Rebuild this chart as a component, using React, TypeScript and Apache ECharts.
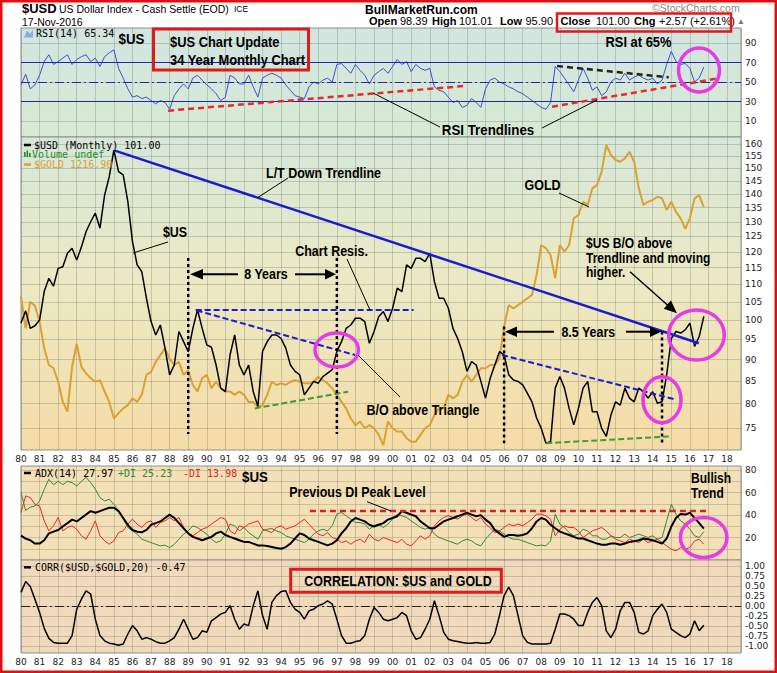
import React, { useEffect, useRef } from "react";
import * as echarts from "echarts";

// ---------- data (quarterly samples, first = Jan 1980) ----------
const START_YEAR = 1980;
const STEP = 0.25;

const usd = [
  99.2, 102.5, 97.8, 98.5, // 1980
  100, 107.9, 111.8, 109.5, // 1981
  114.8, 115.3, 119.5, 121.1, // 1982
  117.4, 121.5, 126.6, 130, // 1983
  133, 127.8, 139.6, 146.6, // 1984
  157.4, 148.6, 147.3, 137.2, // 1985
  123.3, 115.9, 113.8, 106, // 1986
  99.6, 96.1, 98.7, 92.8, // 1987
  86.4, 88.7, 97, 94.4, // 1988
  91.9, 97.8, 102.8, 97.8, // 1989
  93.6, 93, 88.7, 83.4, // 1990
  82.6, 91.1, 96.1, 88.7, // 1991
  86.4, 88.7, 82.6, 79.4, // 1992
  92, 94.4, 96.1, 96.1, // 1993
  95.2, 92.8, 88.7, 87.2, // 1994
  86.4, 81.9, 83.4, 84.9, // 1995
  84.5, 86, 86.8, 87.6, // 1996
  92, 94.4, 97.8, 98.7, // 1997
  100.5, 100.5, 99.6, 94, // 1998
  97, 100.9, 102.3, 99.6, // 1999
  103.2, 108.9, 107.9, 115.9, // 2000
  114.8, 117.9, 117.9, 116.9, // 2001
  119.5, 110.8, 106, 106, // 2002
  103.2, 97.8, 95.2, 91.9, // 2003
  87.2, 89.5, 88.7, 84.9, // 2004
  81.2, 85.6, 88.7, 91.9, // 2005
  91.1, 86.4, 85.2, 84.9, // 2006
  84.1, 82.3, 80.4, 77, // 2007
  74.9, 72, 72.3, 83.4, // 2008
  86, 83.4, 79, 75.6, // 2009
  79, 83.4, 84.9, 78.3, // 2010
  78.3, 74.9, 73.3, 77.6, // 2011
  80.4, 79.7, 83.4, 81.2, // 2012
  80.4, 83.4, 82.6, 81.2, // 2013
  82.6, 80.1, 80.4, 86.4, // 2014
  95.2, 97, 96.6, 97.4, // 2015
  99.2, 93.2, 95.7, 101, // 2016
];

const gold = [
  680, 552, 657, 640, // 1980
  577, 485, 435, 426, // 1981
  390, 342, 321, 430, // 1982
  500, 430, 412, 399, // 1983
  390, 394, 366, 342, // 1984
  307, 318, 328, 335, // 1985
  350, 342, 358, 408, // 1986
  416, 444, 464, 485, // 1987
  454, 435, 444, 408, // 1988
  420, 382, 366, 399, // 1989
  408, 374, 390, 374, // 1990
  366, 366, 358, 366, // 1991
  358, 342, 342, 331, // 1992
  335, 358, 390, 382, // 1993
  386, 382, 390, 394, // 1994
  390, 386, 386, 390, // 1995
  403, 394, 386, 374, // 1996
  358, 342, 328, 307, // 1997
  294, 301, 288, 294, // 1998
  288, 276, 258, 301, // 1999
  288, 282, 282, 270, // 2000
  264, 264, 276, 288, // 2001
  294, 314, 328, 328, // 2002
  358, 350, 358, 390, // 2003
  408, 390, 408, 426, // 2004
  426, 435, 435, 454, // 2005
  558, 643, 629, 643, // 2006
  657, 672, 687, 782, // 2007
  951, 931, 891, 765, // 2008
  951, 910, 951, 1132, // 2009
  1156, 1261, 1234, 1376, // 2010
  1406, 1534, 1825, 1710, // 2011
  1655, 1637, 1673, 1747, // 2012
  1637, 1376, 1234, 1261, // 2013
  1275, 1303, 1289, 1195, // 2014
  1261, 1181, 1132, 1057, // 2015
  1132, 1289, 1317, 1216.9, // 2016
];

const rsi = [
  47, 58, 43, 47, // 1980
  57, 71, 78, 68, // 1981
  71, 74.5, 78, 68, // 1982
  73, 76, 78, 71, // 1983
  74.5, 66, 76, 80, // 1984
  83, 64, 54, 43, // 1985
  34.5, 36, 33, 34.5, // 1986
  31, 27.6, 31, 29, // 1987
  22, 36, 43, 48, // 1988
  43, 54, 57, 52, // 1989
  47, 43, 38, 31, // 1990
  34.5, 57, 54, 48, // 1991
  48, 57, 45, 34.5, // 1992
  54, 57, 59, 57, // 1993
  54, 47, 41.5, 36, // 1994
  34.5, 33, 45, 50, // 1995
  48, 52, 54, 50, // 1996
  68, 69, 64, 59, // 1997
  68, 62, 57, 48, // 1998
  57, 60.6, 64, 59, // 1999
  66, 73, 68, 71, // 2000
  60.6, 68, 64, 62, // 2001
  64, 45, 41.5, 40, // 2002
  34.5, 29, 31, 24, // 2003
  26, 33, 29, 24, // 2004
  43, 52, 54, 50, // 2005
  48, 45, 43, 40, // 2006
  38, 34.5, 31, 27.6, // 2007
  24, 22, 29, 66, // 2008
  60.6, 54, 47, 40, // 2009
  52, 64, 54, 41.5, // 2010
  45, 36, 40, 50, // 2011
  54, 52, 59, 52, // 2012
  55, 57, 54, 52, // 2013
  54, 48, 52, 68, // 2014
  81.5, 71, 68, 69, // 2015
  64, 50, 54, 65.34, // 2016
];

const adx = [
  21.6, 19, 17.6, 14.6, // 1980
  14.6, 17.6, 23.7, 25.2, // 1981
  26.7, 29.8, 32.8, 35.9, // 1982
  34.3, 37.4, 40.4, 43.5, // 1983
  42, 43.5, 45, 46.5, // 1984
  46.5, 43.5, 37.4, 31.3, // 1985
  26.7, 25.2, 24.6, 26.7, // 1986
  31.3, 32.8, 34.3, 37.4, // 1987
  40.4, 37.4, 32.8, 28.2, // 1988
  23.7, 20.6, 19.1, 17.6, // 1989
  19.1, 20.6, 23.7, 25.2, // 1990
  22.2, 20.6, 19.1, 17.6, // 1991
  16.1, 16.1, 14.6, 13, // 1992
  13, 12.4, 11.5, 10.6, // 1993
  10, 11.5, 14.6, 19.1, // 1994
  23.7, 22.2, 19.1, 17.6, // 1995
  16.1, 14.6, 13, 14.6, // 1996
  17.6, 23.7, 28.2, 34.3, // 1997
  37.4, 35.9, 34.3, 31.3, // 1998
  29.8, 31.3, 32.8, 35.9, // 1999
  37.4, 38.9, 43.5, 42, // 2000
  40.4, 38.9, 34.3, 31.3, // 2001
  28.2, 28.2, 31.3, 34.3, // 2002
  35.9, 37.4, 38.9, 40.4, // 2003
  42, 40.4, 38.9, 39.9, // 2004
  35.9, 32.8, 26.7, 23.7, // 2005
  20.6, 22.2, 22.2, 21.6, // 2006
  22.2, 23.7, 28.2, 34.3, // 2007
  37.4, 35.9, 31.3, 28.2, // 2008
  25.2, 23.7, 22.2, 20.6, // 2009
  19.1, 19.1, 17.6, 16.1, // 2010
  14.6, 13.6, 13.6, 14.6, // 2011
  14.6, 13.6, 14.6, 16.1, // 2012
  16.7, 17.6, 19.1, 18.5, // 2013
  17.6, 16.1, 14.6, 19.1, // 2014
  29.8, 37.4, 41, 40.4, // 2015
  42, 37.4, 32.8, 27.97, // 2016
];

const plusDI = [
  60, 44, 47, 48, // 1980
  52.5, 62.9, 71.8, 67, // 1981
  70, 67, 70, 68.8, // 1982
  65.8, 70, 73.6, 68.8, // 1983
  63, 55.5, 52.5, 54, // 1984
  49.6, 43.7, 36.3, 28.9, // 1985
  25.9, 23, 18.5, 17, // 1986
  15.5, 14, 12.6, 13.2, // 1987
  11, 14, 18.5, 23, // 1988
  25.9, 30.4, 28.9, 25.9, // 1989
  23, 18.5, 15.5, 17, // 1990
  23, 31.9, 30.4, 25.9, // 1991
  28.9, 24.4, 21.5, 18.5, // 1992
  25.9, 27.4, 28, 25.9, // 1993
  24.4, 21.5, 20, 18.5, // 1994
  17, 15.5, 18.5, 23, // 1995
  25.9, 27.4, 25.9, 30.4, // 1996
  40.8, 42.2, 39.3, 36.3, // 1997
  33.3, 33.3, 31.9, 27.4, // 1998
  30.4, 31.9, 28.9, 31.9, // 1999
  36.3, 40.8, 39.3, 37.8, // 2000
  34.8, 31.9, 28.9, 27.4, // 2001
  28.9, 23, 20, 18.5, // 2002
  17, 15.5, 14, 17, // 2003
  18.5, 17, 14, 12.6, // 2004
  18.5, 23, 27.4, 25.9, // 2005
  23, 20, 18.5, 18.5, // 2006
  17, 15.5, 14, 12.6, // 2007
  13.2, 12.6, 17, 40.8, // 2008
  31.9, 28.9, 24.4, 21.5, // 2009
  23, 27.4, 25.9, 21.5, // 2010
  21.5, 18.5, 18.5, 21.5, // 2011
  20, 20, 23, 20, // 2012
  21.5, 23, 21.5, 20, // 2013
  21.5, 18.5, 20, 34.8, // 2014
  49.6, 40.8, 34.8, 31.9, // 2015
  27.4, 21.5, 20, 25.23, // 2016
];

const minusDI = [
  42.2, 57, 55.5, 49.6, // 1980
  48, 34.8, 25.9, 30.4, // 1981
  37.8, 25.9, 28.9, 30.4, // 1982
  27.4, 21.5, 18.5, 25.9, // 1983
  34.8, 21.5, 17, 14, // 1984
  17, 24.4, 25.9, 31.9, // 1985
  36.3, 31.9, 28.9, 33.3, // 1986
  34.8, 28.9, 33.3, 34.8, // 1987
  37.8, 34.8, 37.8, 28.9, // 1988
  24.4, 21.5, 24.4, 27.4, // 1989
  28.9, 31.9, 34.8, 37.8, // 1990
  36.3, 25.9, 23, 30.4, // 1991
  28.9, 31.9, 33.3, 34.8, // 1992
  27.4, 25.9, 24.4, 28.9, // 1993
  30.4, 27.4, 28.9, 30.4, // 1994
  33.3, 36.3, 31.9, 27.4, // 1995
  23, 21.5, 24.4, 20, // 1996
  18.5, 15.5, 17, 14, // 1997
  17, 18.5, 15.5, 23, // 1998
  18.5, 17, 20, 18.5, // 1999
  17, 15.5, 18.5, 14, // 2000
  12.6, 17, 21.5, 18.5, // 2001
  21.5, 30.4, 34.8, 37.8, // 2002
  39.3, 37.8, 36.3, 39.3, // 2003
  40.8, 37.8, 34.8, 37.8, // 2004
  31.9, 28.9, 24.4, 25.9, // 2005
  28.9, 31.9, 30.4, 31.9, // 2006
  30.4, 33.3, 36.3, 40.8, // 2007
  40.8, 39.3, 36.3, 21.5, // 2008
  27.4, 30.4, 28.9, 28.9, // 2009
  25.9, 20, 23, 25.9, // 2010
  27.4, 28.9, 25.9, 21.5, // 2011
  18.5, 17, 15.5, 18.5, // 2012
  17, 15.5, 18.5, 15.5, // 2013
  17, 18.5, 15.5, 12.6, // 2014
  9.6, 8.2, 11.1, 9.6, // 2015
  11.1, 17, 18.5, 13.98, // 2016
];

const corr = [
  0.35, 0.62, 0.5, 0.18, // 1980
  -0.15, -0.55, -0.8, -0.9, // 1981
  -0.92, -0.92, -0.92, -0.73, // 1982
  -0.07, 0.18, 0.39, 0.31, // 1983
  -0.32, -0.73, -0.86, -0.92, // 1984
  -0.94, -0.97, -0.94, -0.69, // 1985
  -0.48, -0.61, -0.82, -0.78, // 1986
  -0.82, -0.88, -0.92, -0.92, // 1987
  -0.86, -0.78, -0.57, -0.32, // 1988
  -0.57, -0.82, -0.78, -0.61, // 1989
  -0.65, -0.36, -0.28, -0.19, // 1990
  -0.15, 0.02, -0.32, -0.57, // 1991
  -0.44, -0.48, 0.02, 0.39, // 1992
  -0.23, -0.57, 0.1, 0.27, // 1993
  0.37, 0.39, 0.1, -0.07, // 1994
  -0.15, -0.32, -0.11, -0.07, // 1995
  0.02, 0.06, 0.14, 0.06, // 1996
  -0.32, -0.73, -0.92, -0.92, // 1997
  -0.88, -0.86, -0.73, -0.32, // 1998
  -0.03, -0.15, -0.32, -0.36, // 1999
  -0.32, -0.28, -0.15, -0.23, // 2000
  -0.61, -0.82, -0.78, -0.57, // 2001
  -0.32, 0.14, -0.23, -0.65, // 2002
  -0.82, -0.86, -0.88, -0.9, // 2003
  -0.92, -0.92, -0.9, -0.92, // 2004
  -0.92, -0.9, -0.69, -0.23, // 2005
  0.27, 0.48, 0.27, -0.23, // 2006
  -0.73, -0.9, -0.94, -0.94, // 2007
  -0.94, -0.94, -0.92, -0.57, // 2008
  -0.19, -0.19, -0.23, -0.32, // 2009
  -0.48, -0.48, -0.15, 0.1, // 2010
  0.22, 0.02, -0.61, -0.78, // 2011
  -0.57, -0.11, 0.1, 0.1, // 2012
  -0.15, -0.65, -0.69, -0.61, // 2013
  -0.23, -0.07, 0.06, -0.15, // 2014
  -0.57, -0.65, -0.73, -0.78, // 2015
  -0.69, -0.36, -0.61, -0.47, // 2016
];

// tick labels
const usdTicks = [75, 80, 85, 90, 95, 100, 105, 110, 115, 120, 125, 130, 135, 140, 145, 150, 155, 160];
const rsiTicks = [10, 30, 50, 70, 90];
const adxTicks = [20, 40, 60, 80];
const adxGridTicks = [10, 20, 30, 40, 50, 60, 70, 80];
const corrTicks = [-1, -0.75, -0.5, -0.25, 0, 0.25, 0.5, 0.75, 1];

// hand-drawn trendlines, [year, value]
const rsiLines = [
  { pts: [[1987.92, 20.6], [2003.82, 45.9]], color: "#e42a2a", dash: [6, 4] },
  { pts: [[2008.58, 24.7], [2017.55, 53.8]], color: "#e42a2a", dash: [6, 4] },
  { pts: [[2008.85, 66.4], [2014.86, 54.8]], color: "#222222", dash: [6, 4] },
];
const mainLines = [
  { pts: [[1985.05, 157.2], [2016.48, 94.0]], color: "#1b1bd0", dash: "solid", w: 2.5 },
  { pts: [[1989.4, 102.7], [2001.13, 102.7]], color: "#1b1bd0", dash: [6, 3], w: 2 },
  { pts: [[1989.45, 102.6], [1997.98, 91.1]], color: "#1b1bd0", dash: [6, 3], w: 2 },
  { pts: [[1992.58, 79.0], [1997.61, 82.6]], color: "#3f9a2f", dash: [6, 3], w: 2 },
  { pts: [[2005.89, 91.1], [2015.13, 81.0]], color: "#1b1bd0", dash: [6, 3], w: 2 },
  { pts: [[2008.27, 72.0], [2014.86, 73.3]], color: "#3f9a2f", dash: [6, 3], w: 2 },
  { pts: [[1989.0, 118], [1989.0, 73.8]], color: "#000000", dash: [3, 3], w: 2.5 },
  { pts: [[1997.0, 118], [1997.0, 73.8]], color: "#000000", dash: [3, 3], w: 2.5 },
  { pts: [[2006.0, 98.3], [2006.0, 72.0]], color: "#000000", dash: [3, 3], w: 2.5 },
  { pts: [[2014.5, 97.0], [2014.5, 72.1]], color: "#000000", dash: [3, 3], w: 2.5 },
];
const adxLines = [{ pts: [[1995.55, 43.6], [2016.92, 43.6]], color: "#cc2424", dash: [6, 4] }];

// ---------- layout / style ----------
const X_MIN = 1980;
const X_MAX = 2018.75;
const USD_MIN = 70.7;
const USD_MAX = 163;
const GOLD_MIN = 250;
const GOLD_MAX = 1923;

const SANS = "'Liberation Sans', Arial, sans-serif";
const MONO = "'DejaVu Sans Mono', monospace";
const AXF = "'DejaVu Sans', sans-serif";
const GRID_C = "rgba(95,105,95,0.28)";
const MAG = "#e63be6";
const RED = "#e01a1a";

const dates = usd.map((_, i) => START_YEAR + i * STEP);
const L = Math.log;

function txt(text: string, x: number, y: number, font: string, fill = "#000", align = "left") {
  return {
    type: "text", x, y, z: 100, silent: true,
    style: { text, font, fill, textAlign: align, textVerticalAlign: "middle", align, verticalAlign: "middle" },
  };
}
// bold condensed annotation text (horizontally squeezed sans)
function nar(text: string, x: number, y: number, align = "left", size = 14.5) {
  return { ...txt(text, x, y, `bold ${size}px ${SANS}`, "#000", align), scaleX: 0.86 };
}
function seg(x1: number, y1: number, x2: number, y2: number, stroke = "#000", lineWidth = 1) {
  return { type: "line", z: 100, silent: true, shape: { x1, y1, x2, y2 }, style: { stroke, lineWidth } };
}
function ell(cx: number, cy: number, rx: number, ry: number) {
  return { type: "ellipse", z: 100, silent: true, shape: { cx, cy, rx, ry }, style: { fill: "none", stroke: MAG, lineWidth: 3.5 } };
}
function box(x: number, y: number, width: number, height: number, stroke = RED, lineWidth = 3) {
  return { type: "rect", z: 100, silent: true, shape: { x, y, width, height }, style: { fill: "none", stroke, lineWidth } };
}
function tri(points: number[][], fill = "#000") {
  return { type: "polygon", z: 100, silent: true, shape: { points }, style: { fill } };
}

function buildOption() {
  const grids = [
    { top: 28, height: 109, bg: new echarts.graphic.LinearGradient(0, 0, 0, 1, [{ offset: 0, color: "#d2e5e0" }, { offset: 1, color: "#d7ead2" }]) },
    { top: 137, height: 313, bg: new echarts.graphic.LinearGradient(0, 0, 0, 1, [{ offset: 0, color: "#d6e7d8" }, { offset: 0.45, color: "#ebe9c4" }, { offset: 1, color: "#f5dca6" }]) },
    { top: 466, height: 94, bg: "#f3e0b7" },
    { top: 560, height: 93, bg: "#f1dabc" },
  ];
  const yearFmt = (v: number) => (Number.isInteger(v) ? String(v % 100).padStart(2, "0") : "");
  const axLabel = { fontSize: 9, fontFamily: AXF, color: "#222", margin: 4 };

  const lineSeries = (xi: number, yi: number, data: number[][], color: string, width: number, type: any, z = 5) => ({
    type: "line", xAxisIndex: xi, yAxisIndex: yi, data, showSymbol: false, symbol: "none", silent: true, z,
    lineStyle: { color, width, type }, animation: false,
  });

  const series: any[] = [
    {
      ...lineSeries(0, 0, dates.map((d, i) => [d, rsi[i]]), "#3c4fcf", 1, "solid", 3),
      markLine: {
        silent: true, symbol: ["none", "none"], label: { show: false }, animation: false,
        data: [
          { yAxis: 70, lineStyle: { color: "#2424b4", width: 1.2, type: "solid" } },
          { yAxis: 30, lineStyle: { color: "#2424b4", width: 1.2, type: "solid" } },
          { yAxis: 50, lineStyle: { color: "#2424b4", width: 1.2, type: [9, 3, 2, 3] } },
        ],
      },
    },
    lineSeries(1, 2, dates.map((d, i) => [d, L(gold[i])]), "#d9a132", 2, "solid", 2),
    lineSeries(1, 1, dates.map((d, i) => [d, L(usd[i])]), "#000000", 1.5, "solid", 3),
    lineSeries(2, 3, dates.map((d, i) => [d, plusDI[i]]), "#2f8a2f", 1, "solid", 2),
    lineSeries(2, 3, dates.map((d, i) => [d, minusDI[i]]), "#f02222", 1, "solid", 2),
    lineSeries(2, 3, dates.map((d, i) => [d, adx[i]]), "#000000", 2, "solid", 3),
    {
      ...lineSeries(3, 4, dates.map((d, i) => [d, corr[i]]), "#000000", 1.5, "solid", 3),
      markLine: {
        silent: true, symbol: ["none", "none"], label: { show: false }, animation: false,
        data: [{ yAxis: 0, lineStyle: { color: "#222", width: 1, type: [9, 3, 2, 3] } }],
      },
    },
  ];
  rsiLines.forEach((l) => series.push(lineSeries(0, 0, l.pts, l.color, 2.5, l.dash, 6)));
  mainLines.forEach((l) => series.push(lineSeries(1, 1, l.pts.map((p) => [p[0], L(p[1])]), l.color, l.w, l.dash, 6)));
  adxLines.forEach((l) => series.push(lineSeries(2, 3, l.pts, l.color, 2.5, l.dash, 6)));

  const graphics: any[] = [
    // frame
    box(1.25, 1.25, 774.5, 670.5, "#e01010", 2.5),
    // header
    txt("$USD", 22, 8.5, `bold 13px ${SANS}`),
    txt("US Dollar Index - Cash Settle (EOD)", 59, 8.5, `10.5px ${SANS}`),
    txt("ICE", 234, 9, `8.5px ${SANS}`),
    txt("17-Nov-2016", 22, 21.5, `10.5px ${SANS}`),
    txt("BullMarketRun.com", 365, 9.5, `bold 12px ${SANS}`),
    txt("Open", 369, 21, `bold 11px ${SANS}`),
    txt("98.39", 400, 21, `11px ${SANS}`),
    txt("High", 432, 21, `bold 11px ${SANS}`),
    txt("101.01", 459, 21, `11px ${SANS}`),
    txt("Low", 500, 21, `bold 11px ${SANS}`),
    txt("95.90", 525.5, 21, `11px ${SANS}`),
    txt("Close", 560.5, 21, `bold 11px ${SANS}`),
    txt("101.00", 596, 21, `11px ${SANS}`),
    txt("Chg", 634, 21, `bold 11px ${SANS}`),
    txt("+2.57 (+2.61%)", 659, 21, `11px ${SANS}`),
    box(557, 13.5, 174, 18, RED, 2.5),
    txt("\u00A9StockCharts.com", 652, 7.5, `10.5px ${SANS}`, "#8a8a8a"),
    txt("\u25B2", 737, 21, `8px ${SANS}`, "#777"),
    // RSI panel
    tri([[24, 37.5], [27, 30.5], [30, 34], [33, 29.5], [33, 37.5]], "#8fa6e0"),
    txt("RSI(14) 65.34", 36, 33.5, `10px ${MONO}`),
    nar("$US", 131.5, 39, "center", 15.5),
    box(153.5, 29, 155, 41),
    nar("$US Chart Update", 170, 42, "left", 15),
    nar("34 Year Monthly Chart", 170, 60, "left", 15),
    nar("RSI at 65%", 638.5, 42, "center", 15),
    ell(699, 70, 20.5, 22),
    nar("RSI Trendlines", 488, 130, "center", 15.5),
    seg(440, 127, 373, 93),
    seg(542, 128, 597, 100),
    // main panel legend
    seg(24, 145, 31, 145, "#000", 2.5),
    txt("$USD (Monthly) 101.00", 34, 145, `10px ${MONO}`),
    { type: "rect", z: 100, silent: true, shape: { x: 24, y: 152, width: 1.6, height: 5 }, style: { fill: "#2d8a2d" } },
    { type: "rect", z: 100, silent: true, shape: { x: 26.5, y: 150.5, width: 1.6, height: 6.5 }, style: { fill: "#2d8a2d" } },
    { type: "rect", z: 100, silent: true, shape: { x: 29, y: 153, width: 1.6, height: 4 }, style: { fill: "#2d8a2d" } },
    txt("Volume undef", 32, 154.5, `10px ${MONO}`, "#2d8a2d"),
    seg(24, 164.5, 31, 164.5, "#d9a132", 2.5),
    txt("$GOLD 1216.90", 34, 164.5, `10px ${MONO}`, "#d9a132"),
    // main annotations
    nar("L/T Down Trendline", 323.5, 173, "center"),
    seg(288, 178, 257, 198),
    nar("$US", 175, 232, "center"),
    seg(168, 242, 133, 253),
    nar("Chart Resis.", 331.5, 251, "center"),
    seg(347, 259, 370, 310),
    nar("8 Years", 266, 274.3, "center"),
    tri([[190, 274.3], [203, 269], [203, 279.6]]),
    seg(203, 274.3, 238, 274.3, "#000", 2),
    seg(295, 274.3, 325, 274.3, "#000", 2),
    tri([[336, 274.3], [325, 269], [325, 279.6]]),
    ell(336.7, 350, 21.7, 17),
    nar("B/O above Triangle", 423, 410, "center"),
    seg(358, 355, 400, 397),
    nar("GOLD", 542.5, 185, "center"),
    seg(559, 193, 589, 207),
    nar("$US B/O above", 586, 243.5, "left", 14),
    nar("Trendline and moving", 586, 257.7, "left", 14),
    nar("higher.", 586, 272, "left", 14),
    seg(630, 271.7, 668, 305.5, "#000", 1.5),
    tri([[677, 313.3], [663.7, 308.8], [670.9, 300.6]]),
    ell(696.5, 335, 27.8, 25),
    ell(662, 399.7, 19, 23),
    nar("8.5 Years", 588.3, 331.7, "center"),
    tri([[505, 331.7], [517, 326.5], [517, 337]]),
    seg(517, 331.7, 554, 331.7, "#000", 2),
    seg(626, 331.7, 650, 331.7, "#000", 2),
    tri([[661, 331.7], [650, 326.5], [650, 337]]),
    // ADX panel
    seg(24, 473, 31, 473, "#000", 2.5),
    txt("ADX(14) 27.97", 35, 473, `10px ${MONO}`),
    txt("+DI 25.23", 118, 473, `10px ${MONO}`, "#2f8a2f"),
    txt("-DI 13.98", 183, 473, `10px ${MONO}`, "#f02222"),
    nar("$US", 255, 476.7, "center", 15.5),
    nar("Previous DI Peak Level", 357.5, 491.7, "center"),
    seg(367, 501.7, 391, 511),
    nar("Bullish", 691, 478.3, "left", 14),
    nar("Trend", 691, 493.3, "left", 14),
    ell(703.7, 537.5, 23.3, 20),
    // CORR panel
    seg(24, 567.3, 31, 567.3, "#000", 2.5),
    txt("CORR($USD,$GOLD,20) -0.47", 35, 567.3, `10px ${MONO}`),
    box(290.7, 569.3, 210.6, 23),
    nar("CORRELATION: $US and GOLD", 398, 581, "center", 14.5),
  ];

  return {
    animation: false,
    backgroundColor: "#ffffff",
    grid: grids.map((g) => ({
      left: 21, width: 720, top: g.top, height: g.height, show: true,
      backgroundColor: g.bg, borderColor: "#8f8f8f", borderWidth: 1, containLabel: false,
    })),
    xAxis: [0, 1, 2, 3].map((i) => ({
      type: "value", gridIndex: i, min: X_MIN, max: X_MAX, interval: 1,
      axisLine: { show: false }, axisTick: { show: false },
      splitLine: { show: true, lineStyle: { color: GRID_C, width: 1 } },
      axisLabel: { show: i === 1 || i === 3, formatter: yearFmt, ...axLabel, margin: 4 },
    })),
    yAxis: [
      {
        type: "value", gridIndex: 0, position: "right", min: -6.4, max: 105.4,
        axisLine: { show: false }, axisTick: { show: false, customValues: rsiTicks },
        axisLabel: { ...axLabel, customValues: rsiTicks },
        splitLine: { show: true, lineStyle: { color: GRID_C } },
      },
      {
        type: "value", gridIndex: 1, position: "right", min: L(USD_MIN), max: L(USD_MAX),
        axisLine: { show: false }, axisTick: { show: false, customValues: usdTicks.map(L) },
        axisLabel: { ...axLabel, customValues: usdTicks.map(L), formatter: (v: number) => String(Math.round(Math.exp(v))) },
        splitLine: { show: true, lineStyle: { color: GRID_C } },
      },
      { type: "value", gridIndex: 1, min: L(GOLD_MIN), max: L(GOLD_MAX), show: false, splitLine: { show: false } },
      {
        type: "value", gridIndex: 2, position: "right", min: 0, max: 83.6,
        axisLine: { show: false }, axisTick: { show: false, customValues: adxGridTicks },
        axisLabel: { ...axLabel, customValues: adxTicks },
        splitLine: { show: true, lineStyle: { color: GRID_C } },
      },
      {
        type: "value", gridIndex: 3, position: "right", min: -1.165, max: 1.16,
        axisLine: { show: false }, axisTick: { show: false, customValues: corrTicks },
        axisLabel: { ...axLabel, customValues: corrTicks, formatter: (v: number) => v.toFixed(2) },
        splitLine: { show: true, lineStyle: { color: GRID_C } },
      },
    ],
    series,
    graphic: { elements: graphics },
  };
}

export default function App() {
  const ref = useRef<HTMLDivElement>(null);
  useEffect(() => {
    if (!ref.current) return;
    const chart = echarts.init(ref.current, null, { renderer: "svg", width: 777, height: 673 });
    chart.setOption(buildOption() as any);
    return () => chart.dispose();
  }, []);
  return (
    <div
      ref={ref}
      style={{ position: "absolute", left: 0, top: 0, width: 777, height: 673, background: "#fff" }}
    />
  );
}
